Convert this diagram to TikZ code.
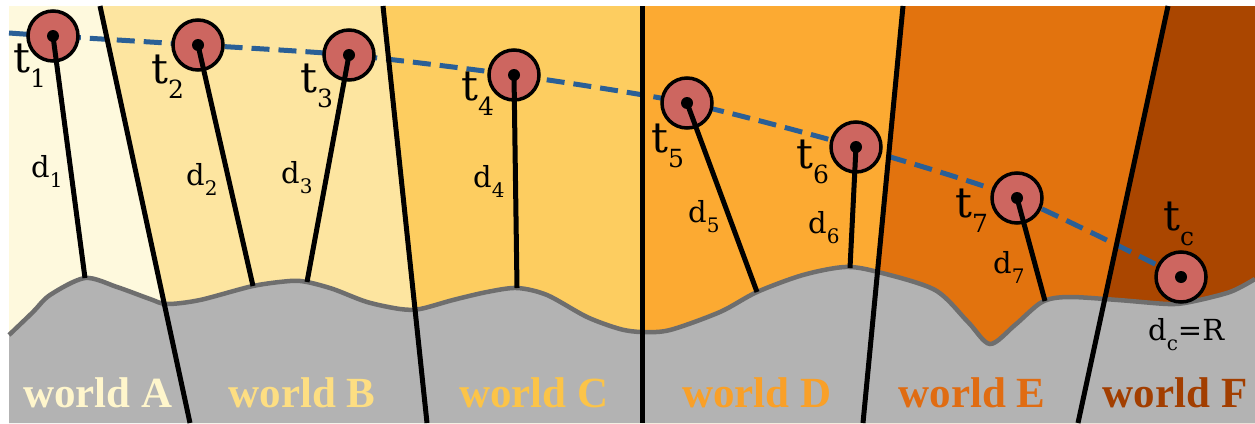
\documentclass[tikz,border=0pt]{standalone}
\usepackage{fontspec}
\setmainfont{Liberation Serif}
\newfontfamily\lblfont{DejaVu Serif}
\definecolor{wA}{HTML}{FEF9DD}
\definecolor{wB}{HTML}{FDE5A0}
\definecolor{wC}{HTML}{FDCD60}
\definecolor{wD}{HTML}{FCAA32}
\definecolor{wE}{HTML}{E2730E}
\definecolor{wF}{HTML}{AA4600}
\definecolor{lA}{HTML}{FFF6CC}
\definecolor{lB}{HTML}{FDDE82}
\definecolor{lC}{HTML}{FCC448}
\definecolor{lD}{HTML}{F9A028}
\definecolor{lE}{HTML}{E06C12}
\definecolor{lF}{HTML}{A23E00}
\definecolor{groundc}{HTML}{B3B3B3}
\definecolor{groundl}{HTML}{6E6E6E}
\definecolor{personred}{HTML}{CD6660}
\definecolor{dashblue}{HTML}{2A5F96}
\newcommand{\mytsub}[1]{t\raisebox{-15pt}{\fontsize{25}{25}\selectfont #1}}
\newcommand{\mydsub}[1]{d\raisebox{-10pt}{\fontsize{20}{20}\selectfont #1}}
\begin{document}
\begin{tikzpicture}[x=1pt,y=-1pt,
  person/.style={circle,draw=black,line width=3.5pt,fill=personred,minimum size=50pt,inner sep=0pt},
  dotc/.style={circle,fill=black,minimum size=12pt,inner sep=0pt},
  leg/.style={line width=5pt,black},
  border/.style={line width=5pt,black},
  dashline/.style={line width=5pt,dashblue,dash pattern=on 18pt off 9pt},
  tl/.style={anchor=base west,inner sep=0pt,font=\lblfont\fontsize{42}{42}\selectfont},
  dl/.style={anchor=base west,inner sep=0pt,font=\lblfont\fontsize{29}{29}\selectfont},
  wl/.style={anchor=base,inner sep=0pt,font=\bfseries\fontsize{43}{43}\selectfont},
]
\useasboundingbox (0,0) rectangle (1255,423);
\fill[white] (0,0) rectangle (1255,423);
% boundaries
\coordinate (ab1) at (100,6);  \coordinate (ab2) at (190,423);
\coordinate (bc1) at (383,6);  \coordinate (bc2) at (427,423);
\coordinate (cd1) at (642,6);  \coordinate (cd2) at (642,423);
\coordinate (de1) at (903,6);  \coordinate (de2) at (863,423);
\coordinate (ef1) at (1168,6); \coordinate (ef2) at (1078,423);
% world backgrounds
\fill[wA] (9,6) -- (ab1) -- (ab2) -- (9,423) -- cycle;
\fill[wB] (ab1) -- (bc1) -- (bc2) -- (ab2) -- cycle;
\fill[wC] (bc1) -- (cd1) -- (cd2) -- (bc2) -- cycle;
\fill[wD] (cd1) -- (de1) -- (de2) -- (cd2) -- cycle;
\fill[wE] (de1) -- (ef1) -- (ef2) -- (de2) -- cycle;
\fill[wF] (ef1) -- (1255,6) -- (1255,423) -- (ef2) -- cycle;
% ground
\fill[groundc] plot[smooth,tension=0.5] coordinates {(9,335) (33,312) (50,295) (85,278) (117,287) (150,299) (167,304) (200,300) (253,286) (290,281) (307,282) (333,289) (367,302) (400,309) (420,309) (453,300) (487,292) (517,288) (547,295) (587,317) (620,329) (642,332) (670,330) (720,312) (757,292) (803,275) (845,267) (878,272) (935,290) (968,322) (990,344) (1015,325) (1042,302) (1068,297) (1118,300) (1168,304) (1190,302) (1230,292) (1255,279)} -- (1255,423) -- (9,423) -- cycle;
\draw[groundl,line width=4.5pt] plot[smooth,tension=0.5] coordinates {(9,335) (33,312) (50,295) (85,278) (117,287) (150,299) (167,304) (200,300) (253,286) (290,281) (307,282) (333,289) (367,302) (400,309) (420,309) (453,300) (487,292) (517,288) (547,295) (587,317) (620,329) (642,332) (670,330) (720,312) (757,292) (803,275) (845,267) (878,272) (935,290) (968,322) (990,344) (1015,325) (1042,302) (1068,297) (1118,300) (1168,304) (1190,302) (1230,292) (1255,279)};
% person positions
\coordinate (c1) at (53,36);
\coordinate (c2) at (198,45);
\coordinate (c3) at (349,55);
\coordinate (c4) at (514,75);
\coordinate (c5) at (687,103);
\coordinate (c6) at (856,147);
\coordinate (c7) at (1017,198);
\coordinate (cc) at (1181,277);
\coordinate (dstart) at (9,33);
% ground contact points
\coordinate (g1) at (85,278);
\coordinate (g2) at (253,286);
\coordinate (g3) at (307,282);
\coordinate (g4) at (517,288);
\coordinate (g5) at (757,292);
\coordinate (g6) at (850,268);
\coordinate (g7) at (1045,301);
% dashed trajectory
\draw[dashline] plot[smooth,tension=0.4] coordinates {(dstart) (c1) (c2) (c3) (c4) (c5) (c6) (c7) (cc)};
% world borders
\draw[border] (ab1) -- (ab2);
\draw[border] (bc1) -- (bc2);
\draw[border] (cd1) -- (cd2);
\draw[border] (de1) -- (de2);
\draw[border] (ef1) -- (ef2);
% persons
\node[person] (p1) at (c1) {};
\node[person] (p2) at (c2) {};
\node[person] (p3) at (c3) {};
\node[person] (p4) at (c4) {};
\node[person] (p5) at (c5) {};
\node[person] (p6) at (c6) {};
\node[person] (p7) at (c7) {};
\node[person] (pc) at (cc) {};
\draw[leg] (p1.center) -- (g1);
\draw[leg] (p2.center) -- (g2);
\draw[leg] (p3.center) -- (g3);
\draw[leg] (p4.center) -- (g4);
\draw[leg] (p5.center) -- (g5);
\draw[leg] (p6.center) -- (g6);
\draw[leg] (p7.center) -- (g7);
\foreach \n in {1,2,3,4,5,6,7,c} \node[dotc] (dot\n) at (p\n.center) {};
% t labels
\node[tl] (t1) at (13,72) {\mytsub{1}};
\node[tl] (t2) at (151,83) {\mytsub{2}};
\node[tl] (t3) at (300,92) {\mytsub{3}};
\node[tl] (t4) at (461,100) {\mytsub{4}};
\node[tl] (t5) at (651,152) {\mytsub{5}};
\node[tl] (t6) at (796,168) {\mytsub{6}};
\node[tl] (t7) at (955,217) {\mytsub{7}};
\node[tl] (tc) at (1163,230) {\mytsub{c}};
% d labels
\node[dl] (d1) at (31,177) {\mydsub{1}};
\node[dl] (d2) at (186,185) {\mydsub{2}};
\node[dl] (d3) at (281,183) {\mydsub{3}};
\node[dl] (d4) at (473,187) {\mydsub{4}};
\node[dl] (d5) at (688,222) {\mydsub{5}};
\node[dl] (d6) at (808,233) {\mydsub{6}};
\node[dl] (d7) at (993,273) {\mydsub{7}};
\node[dl] (dc) at (1148,340) {\mydsub{c}=R};
% world labels
\node[wl,text=lA] (wa) at (98,407) {world A};
\node[wl,text=lB] (wb) at (302,407) {world B};
\node[wl,text=lC] (wc) at (534,407) {world C};
\node[wl,text=lD] (wd) at (757,407) {world D};
\node[wl,text=lE] (we) at (972,407) {world E};
\node[wl,text=lF] (wf) at (1175,407) {world F};
\end{tikzpicture}
\end{document}
